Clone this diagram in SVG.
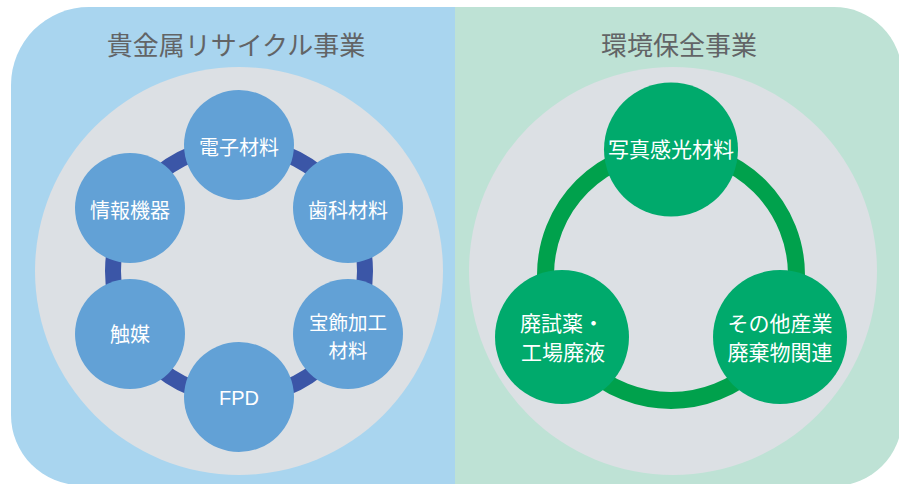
<svg xmlns="http://www.w3.org/2000/svg" width="899" height="484" viewBox="0 0 899 484">
<defs>
<style>
.title{font-family:"Noto Sans CJK JP","Noto Sans",sans-serif;font-size:26px;fill:#626466;text-anchor:middle}
.lbl{font-family:"Noto Sans CJK JP","Noto Sans",sans-serif;font-size:20px;fill:#ffffff;text-anchor:middle;dominant-baseline:central}
.lbl2{font-family:"Noto Sans CJK JP","Noto Sans",sans-serif;font-size:20px;fill:#ffffff;text-anchor:middle}
.bnode{fill:#62A1D6}
.gnode{fill:#00AA6C}
.plate{fill:#DCE0E4}
</style>
</defs>
<g id="panels">
<path d="M 89 7 H 455 V 485 H 81 A 70 70 0 0 1 11 415 V 85 A 78 78 0 0 1 89 7 Z" fill="#A9D5EF"/>
<path d="M 455 7 H 834 A 68 68 0 0 1 902 75 V 418 A 68 68 0 0 1 834 486 H 455 Z" fill="#BEE2D5"/>
<circle class="plate" cx="239" cy="271" r="204"/>
<circle class="plate" cx="673" cy="271" r="204"/>
<text class="title" x="236" y="55">貴金属リサイクル事業</text>
<text class="title" x="679" y="55">環境保全事業</text>
</g>
<g id="connectors">
<circle cx="239" cy="271" r="126" fill="none" stroke="#3B56A7" stroke-width="16"/>
<circle cx="671" cy="275" r="125.5" fill="none" stroke="#00A14C" stroke-width="17"/>
</g>
<g id="n-denshi"><circle class="bnode" cx="239" cy="145" r="55"/><text class="lbl" x="239" y="146">電子材料</text></g>
<g id="n-shika"><circle class="bnode" cx="348" cy="208" r="55"/><text class="lbl" x="348" y="209">歯科材料</text></g>
<g id="n-hoshoku"><circle class="bnode" cx="348" cy="334" r="55"/><text class="lbl2" x="348" y="330" style="font-size:19.5px"><tspan x="348">宝飾加工</tspan><tspan x="348" dy="28">材料</tspan></text></g>
<g id="n-fpd"><circle class="bnode" cx="239" cy="397" r="55"/><text class="lbl" x="239" y="398" style="font-family:'Liberation Sans',Arial,sans-serif">FPD</text></g>
<g id="n-shokubai"><circle class="bnode" cx="130" cy="334" r="55"/><text class="lbl" x="130" y="333">触媒</text></g>
<g id="n-joho"><circle class="bnode" cx="130" cy="208" r="55"/><text class="lbl" x="130" y="209">情報機器</text></g>
<g id="n-shashin"><circle class="gnode" cx="671" cy="149.5" r="67"/><text class="lbl" x="671" y="148" style="font-size:21px">写真感光材料</text></g>
<g id="n-haishiyaku"><circle class="gnode" cx="562" cy="337" r="67"/><text class="lbl2" x="562" y="331" style="font-size:21px"><tspan x="562">廃試薬・</tspan><tspan x="563" dy="29">工場廃液</tspan></text></g>
<g id="n-sonota"><circle class="gnode" cx="780" cy="337" r="67"/><text class="lbl2" x="780" y="331" style="font-size:21px"><tspan x="780">その他産業</tspan><tspan x="780" dy="29">廃棄物関連</tspan></text></g>
</svg>
